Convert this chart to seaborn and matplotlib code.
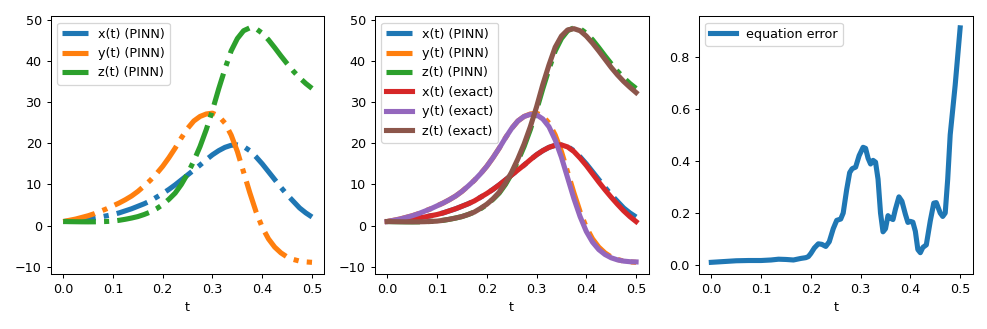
import matplotlib
matplotlib.use("Agg")
import matplotlib.pyplot as plt
import seaborn as sns

# time grid for trajectories
t = [0.0, 0.0125, 0.025, 0.0375, 0.05, 0.0625, 0.075, 0.0875, 0.1, 0.1125,
     0.125, 0.1375, 0.15, 0.1625, 0.175, 0.1875, 0.2, 0.2125, 0.225, 0.2375,
     0.25, 0.2625, 0.275, 0.2875, 0.3, 0.3125, 0.325, 0.3375, 0.35, 0.3625,
     0.375, 0.3875, 0.4, 0.4125, 0.425, 0.4375, 0.45, 0.4625, 0.475, 0.4875, 0.5]

x_exact = [1.0, 1.1, 1.2, 1.4, 1.6, 1.85, 2.1, 2.4, 2.7, 3.1,
           3.6, 4.1, 4.7, 5.3, 6.0, 6.9, 7.8, 8.8, 9.9, 11.1,
           12.3, 13.5, 14.7, 16.0, 17.2, 18.2, 19.0, 19.5, 19.6, 19.1,
           18.0, 16.4, 14.6, 12.6, 10.6, 8.7, 6.9, 5.2, 3.6, 2.2, 1.0]
y_exact = [1.0, 1.3, 1.6, 2.0, 2.4, 2.9, 3.5, 4.1, 4.8, 5.5,
           6.3, 7.2, 8.3, 9.6, 11.0, 12.6, 14.4, 16.5, 18.8, 21.3,
           23.6, 25.4, 26.5, 27.0, 26.9, 25.9, 24.0, 20.8, 16.6, 11.6,
           6.6, 2.2, -1.4, -4.0, -5.8, -7.0, -7.8, -8.3, -8.6, -8.75, -8.8]
z_exact = [1.0, 0.97, 0.95, 0.93, 0.92, 0.93, 0.96, 1.02, 1.1, 1.3,
           1.55, 1.85, 2.2, 2.7, 3.3, 4.2, 5.2, 6.5, 8.1, 10.3,
           13.0, 16.2, 19.8, 24.0, 28.8, 34.2, 39.0, 43.3, 46.0, 47.5,
           47.8, 47.3, 46.0, 44.3, 42.4, 40.4, 38.4, 36.6, 35.0, 33.6, 32.3]

x_pinn = [1.0, 1.1, 1.2, 1.4, 1.6, 1.85, 2.1, 2.4, 2.7, 3.1,
          3.6, 4.1, 4.7, 5.3, 6.0, 6.9, 7.8, 8.8, 9.9, 11.1,
          12.3, 13.5, 14.7, 16.0, 17.2, 18.2, 19.0, 19.5, 19.6, 19.2,
          18.2, 16.7, 15.0, 13.1, 11.2, 9.3, 7.5, 5.9, 4.3, 3.1, 2.1]
y_pinn = [1.0, 1.3, 1.6, 2.0, 2.4, 2.9, 3.5, 4.1, 4.8, 5.5,
          6.3, 7.2, 8.3, 9.6, 11.0, 12.6, 14.4, 16.5, 18.8, 21.3,
          23.6, 25.4, 26.5, 27.1, 27.3, 26.6, 24.9, 22.0, 18.0, 13.0,
          8.0, 3.4, -0.4, -3.2, -5.2, -6.6, -7.6, -8.2, -8.6, -8.8, -8.9]
z_pinn = [1.0, 0.97, 0.95, 0.93, 0.92, 0.93, 0.96, 1.02, 1.1, 1.3,
          1.55, 1.85, 2.2, 2.7, 3.3, 4.1, 5.1, 6.4, 7.9, 10.0,
          12.6, 15.7, 19.2, 23.3, 28.0, 33.2, 38.0, 42.4, 45.4, 47.3,
          48.0, 47.8, 46.7, 45.1, 43.2, 41.2, 39.3, 37.5, 35.9, 34.5, 33.3]

# equation error
t_err = [0.0, 0.025, 0.05, 0.075, 0.1, 0.12, 0.135, 0.15, 0.165, 0.18,
         0.19, 0.195, 0.2, 0.207, 0.215, 0.222, 0.23, 0.237, 0.245, 0.252,
         0.26, 0.265, 0.272, 0.278, 0.283, 0.29, 0.297, 0.305, 0.31, 0.315,
         0.32, 0.325, 0.33, 0.335, 0.34, 0.345, 0.35, 0.355, 0.36, 0.365,
         0.37, 0.377, 0.383, 0.39, 0.395, 0.4, 0.405, 0.41, 0.415, 0.42,
         0.425, 0.432, 0.44, 0.447, 0.452, 0.46, 0.465, 0.47, 0.475, 0.48,
         0.49, 0.5]
err = [0.011, 0.014, 0.017, 0.018, 0.018, 0.02, 0.023, 0.022, 0.02, 0.026,
       0.029, 0.033, 0.045, 0.066, 0.082, 0.08, 0.072, 0.09, 0.14, 0.172,
       0.177, 0.2, 0.29, 0.355, 0.37, 0.376, 0.42, 0.452, 0.448, 0.41,
       0.388, 0.402, 0.395, 0.33, 0.2, 0.128, 0.14, 0.19, 0.18, 0.175,
       0.215, 0.262, 0.245, 0.195, 0.164, 0.168, 0.165, 0.13, 0.06, 0.048,
       0.068, 0.078, 0.17, 0.238, 0.24, 0.2, 0.187, 0.2, 0.33, 0.5,
       0.69, 0.91]

pinn_labels = ["x(t) (PINN)", "y(t) (PINN)", "z(t) (PINN)"]
exact_labels = ["x(t) (exact)", "y(t) (exact)", "z(t) (exact)"]

colors = sns.color_palette("tab10")
DPI = 92
fig, axes = plt.subplots(1, 3, figsize=(987 / DPI, 329 / DPI), dpi=DPI)
fig.subplots_adjust(left=0.0514, right=0.9854, bottom=0.167, top=0.951, wspace=0.184)

LW = 4
pinn = [x_pinn, y_pinn, z_pinn]
exact = [x_exact, y_exact, z_exact]

ax = axes[0]
for i, s in enumerate(pinn):
    sns.lineplot(x=t, y=s, ax=ax, color=colors[i], linestyle="-.", lw=LW,
                 label=pinn_labels[i], sort=False, estimator=None)
ax.legend(loc="upper left")

ax = axes[1]
for i, s in enumerate(pinn):
    sns.lineplot(x=t, y=s, ax=ax, color=colors[i], linestyle="-.", lw=LW,
                 label=pinn_labels[i], sort=False, estimator=None)
for i, s in enumerate(exact):
    sns.lineplot(x=t, y=s, ax=ax, color=colors[i + 3], linestyle="-", lw=LW,
                 label=exact_labels[i], sort=False, estimator=None)
ax.legend(loc="upper left")

ax = axes[2]
sns.lineplot(x=t_err, y=err, ax=ax, color=colors[0], lw=LW,
             label="equation error", sort=False, estimator=None)
ax.legend(loc="upper left")

for ax in axes:
    ax.set_xlabel("t")
    ax.set_ylabel("")
    ax.set_xticks([0.0, 0.1, 0.2, 0.3, 0.4, 0.5])

fig.savefig("out.png", dpi=DPI)
